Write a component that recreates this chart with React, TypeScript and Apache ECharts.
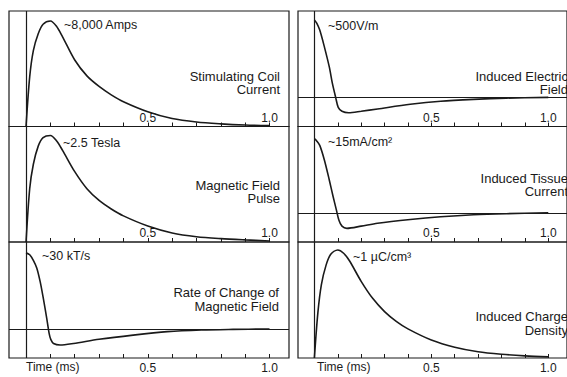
import { useEffect, useRef } from "react";
import * as echarts from "echarts";

// ---- data (time in ms, values normalised to the annotated peak) ----
const timeTicks = [0.1, 0.2, 0.3, 0.4, 0.5, 0.6, 0.7, 0.8, 0.9, 1.0];
const timeLabels = [0.5, 1.0];

const pulseT = [0, 0.015, 0.03, 0.05, 0.07, 0.1, 0.125, 0.15, 0.2, 0.25, 0.3, 0.35, 0.4, 0.5, 0.6, 0.7, 0.8, 0.9, 1.0];
const coilCurrent = [0, 0.47, 0.72, 0.88, 0.97, 1.0, 0.95, 0.85, 0.63, 0.48, 0.38, 0.3, 0.235, 0.14, 0.075, 0.042, 0.025, 0.014, 0.008];
const fieldPulse = [0, 0.5, 0.73, 0.9, 0.98, 1.0, 0.95, 0.86, 0.66, 0.5, 0.39, 0.31, 0.245, 0.15, 0.085, 0.05, 0.032, 0.02, 0.01];
const chargeDensity = [0, 0.42, 0.68, 0.86, 0.96, 1.0, 0.97, 0.9, 0.71, 0.55, 0.43, 0.34, 0.27, 0.167, 0.1, 0.058, 0.035, 0.02, 0.01];

const dbdtT = [0, 0.016, 0.03, 0.044, 0.058, 0.071, 0.085, 0.095, 0.102, 0.113, 0.14, 0.195, 0.3, 0.44, 0.58, 0.72, 0.85, 1.0];
const dbdt = [1.0, 0.97, 0.9, 0.8, 0.62, 0.4, 0.14, -0.06, -0.14, -0.19, -0.21, -0.19, -0.135, -0.08, -0.035, -0.013, -0.005, 0];

const efieldT = [0, 0.01, 0.023, 0.043, 0.064, 0.077, 0.091, 0.102, 0.118, 0.146, 0.2, 0.27, 0.41, 0.54, 0.68, 0.82, 1.0];
const efield = [1.0, 0.96, 0.87, 0.65, 0.39, 0.18, 0.0, -0.13, -0.18, -0.2, -0.18, -0.15, -0.09, -0.05, -0.026, -0.01, 0];

const tissueT = [0, 0.01, 0.023, 0.043, 0.064, 0.08, 0.094, 0.105, 0.118, 0.139, 0.2, 0.27, 0.41, 0.54, 0.68, 0.82, 1.0];
const tissue = [1.0, 0.97, 0.91, 0.71, 0.44, 0.22, 0.04, -0.1, -0.18, -0.21, -0.18, -0.14, -0.09, -0.054, -0.027, -0.012, 0];

const panelTitles = [
  ["Stimulating Coil", "Current"],
  ["Magnetic Field", "Pulse"],
  ["Rate of Change of", "Magnetic Field"],
  ["Induced Electric", "Field"],
  ["Induced Tissue", "Current"],
  ["Induced Charge", "Density"],
];
const peakNotes = ["~8,000 Amps", "~2.5 Tesla", "~30 kT/s", "~500V/m", "~15mA/cm\u00b2", "~1 \u00b5C/cm\u00b3"];

const INK = "#1a1a1a";
const FONT = "Liberation Sans, Arial, Helvetica, sans-serif";

export default function App() {
  const ref = useRef<HTMLDivElement>(null);
  useEffect(() => {
    document.body.style.margin = "0";
    const chart = echarts.init(ref.current!, null, { renderer: "svg" });

    const series = [
      { t: pulseT, v: coilCurrent, min: 0, max: 1.095, zero: false },
      { t: pulseT, v: fieldPulse, min: 0, max: 1.084, zero: false },
      { t: dbdtT, v: dbdt, min: -0.38, max: 1.14, zero: true },
      { t: efieldT, v: efield, min: -0.377, max: 1.117, zero: true },
      { t: tissueT, v: tissue, min: -0.394, max: 1.165, zero: true },
      { t: pulseT, v: chargeDensity, min: 0, max: 1.074, zero: false },
    ];

    const colLeft = [9, 298];
    const rowTop = [11, 126.5, 242];
    const rowH = [115.5, 115.5, 116];
    const W = 280;

    const grids: any[] = [];
    const xAxes: any[] = [];
    const yAxes: any[] = [];
    const ser: any[] = [];
    const graphic: any[] = [];

    series.forEach((s, i) => {
      const col = i < 3 ? 0 : 1;
      const row = i % 3;
      grids.push({
        left: colLeft[col],
        top: rowTop[row],
        width: W,
        height: rowH[row],
        show: true,
        borderColor: INK,
        borderWidth: 1.2,
        backgroundColor: "transparent",
      });
      xAxes.push({
        type: "value",
        gridIndex: i,
        min: -0.07,
        max: 1.08,
        axisLine: { show: false, onZero: false },
        splitLine: { show: false },
        axisTick: {
          show: true,
          inside: true,
          length: 4,
          customValues: timeTicks,
          lineStyle: { color: INK, width: 1 },
        },
        axisLabel: {
          show: true,
          inside: row < 2,
          margin: row < 2 ? 3 : 4,
          customValues: timeLabels,
          formatter: (v: number) => v.toFixed(1),
          fontSize: 12,
          color: INK,
          fontFamily: FONT,
        },
      });
      yAxes.push({ type: "value", gridIndex: i, min: s.min, max: s.max, show: false });
      const mlData: any[] = [{ xAxis: 0 }];
      if (s.zero) mlData.push({ yAxis: 0 });
      ser.push({
        type: "line",
        xAxisIndex: i,
        yAxisIndex: i,
        data: s.t.map((t, k) => [t, s.v[k]]),
        showSymbol: false,
        smooth: 0.3,
        lineStyle: { color: INK, width: 1.6 },
        markLine: {
          silent: true,
          symbol: ["none", "none"],
          label: { show: false },
          lineStyle: { color: INK, width: 1.2, type: "solid" },
          data: mlData,
        },
      });
    });

    const txt = (text: string, x: number, y: number, align: string, size: number) => ({
      type: "text",
      x,
      y,
      style: {
        text,
        fill: INK,
        font: `${size}px ${FONT}`,
        align,
        textAlign: align,
        verticalAlign: "middle",
        textVerticalAlign: "middle",
      },
    });

    // panel titles (right-aligned)
    const titleY = [
      [76, 89.5],
      [185, 198.5],
      [292, 306.5],
      [76, 89.5],
      [178, 191.7],
      [316, 330],
    ];
    const titleX = [280, 280, 279, 568, 568, 568];
    panelTitles.forEach((lines, i) => {
      lines.forEach((l, k) => graphic.push(txt(l, titleX[i], titleY[i][k], "right", 13)));
    });
    const noteX = [64, 63, 42, 328, 328, 353];
    const noteY = [25, 142.7, 256, 26, 141.7, 256.7];
    peakNotes.forEach((n, i) => graphic.push(txt(n, noteX[i], noteY[i], "left", 12.5)));
    graphic.push(txt("Time (ms)", 26, 366.5, "left", 12));
    graphic.push(txt("Time (ms)", 317, 366.5, "left", 12));

    chart.setOption({
      animation: false,
      backgroundColor: "#fff",
      grid: grids,
      xAxis: xAxes,
      yAxis: yAxes,
      series: ser,
      graphic,
    });
    return () => chart.dispose();
  }, []);
  return (
    <div
      ref={ref}
      style={{ position: "fixed", left: 0, top: 0, width: 567, height: 377, background: "#fff" }}
    />
  );
}
